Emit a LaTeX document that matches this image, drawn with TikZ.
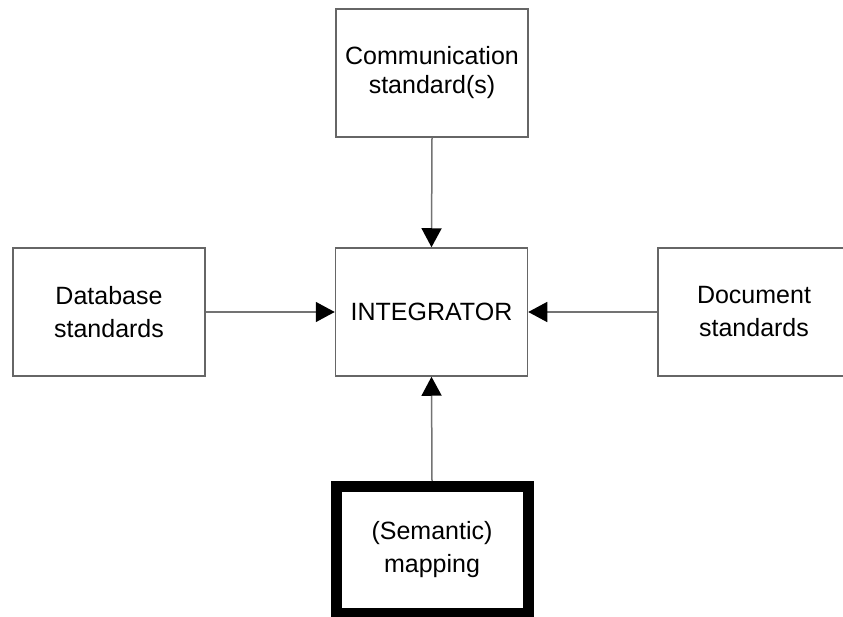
\documentclass[tikz,border=0pt]{standalone}
\usepackage{fontspec}
\setmainfont{Liberation Sans}
\usetikzlibrary{arrows.meta}
\begin{document}
\begin{tikzpicture}[x=1pt,y=-1pt,
  box/.style={draw=black!60, line width=1.5pt, fill=white,
    minimum width=192pt, minimum height=128pt, inner sep=0pt,
    align=center, font=\fontsize{25}{33}\selectfont},
  heavybox/.style={box, draw=black, line width=11pt,
    minimum width=192pt, minimum height=127pt},
  feed/.style={draw=black!55, line width=1.5pt,
    -{Triangle[length=19pt,width=20pt,color=black]}}]
  \useasboundingbox (0,0) rectangle (843,617);
  % standards feeding the integrator
  \node[box, font=\fontsize{25}{29}\selectfont] (comm) at (432,73) {Communication\\standard(s)};
  \node[box] (integ) at (431.5,312) {INTEGRATOR};
  \node[box] (db) at (109,312) {Database\\standards};
  \node[box] (doc) at (754,312) {Document\\standards};
  \node[heavybox] (map) at (432,550) {(Semantic)\\mapping};
  % connectors
  \draw[feed] (comm.south) -- (integ.north);
  \draw[feed] (db.east) -- (integ.west);
  \draw[feed] (doc.west) -- (integ.east);
  \draw[feed] (map.north) -- (integ.south);
\end{tikzpicture}
\end{document}
